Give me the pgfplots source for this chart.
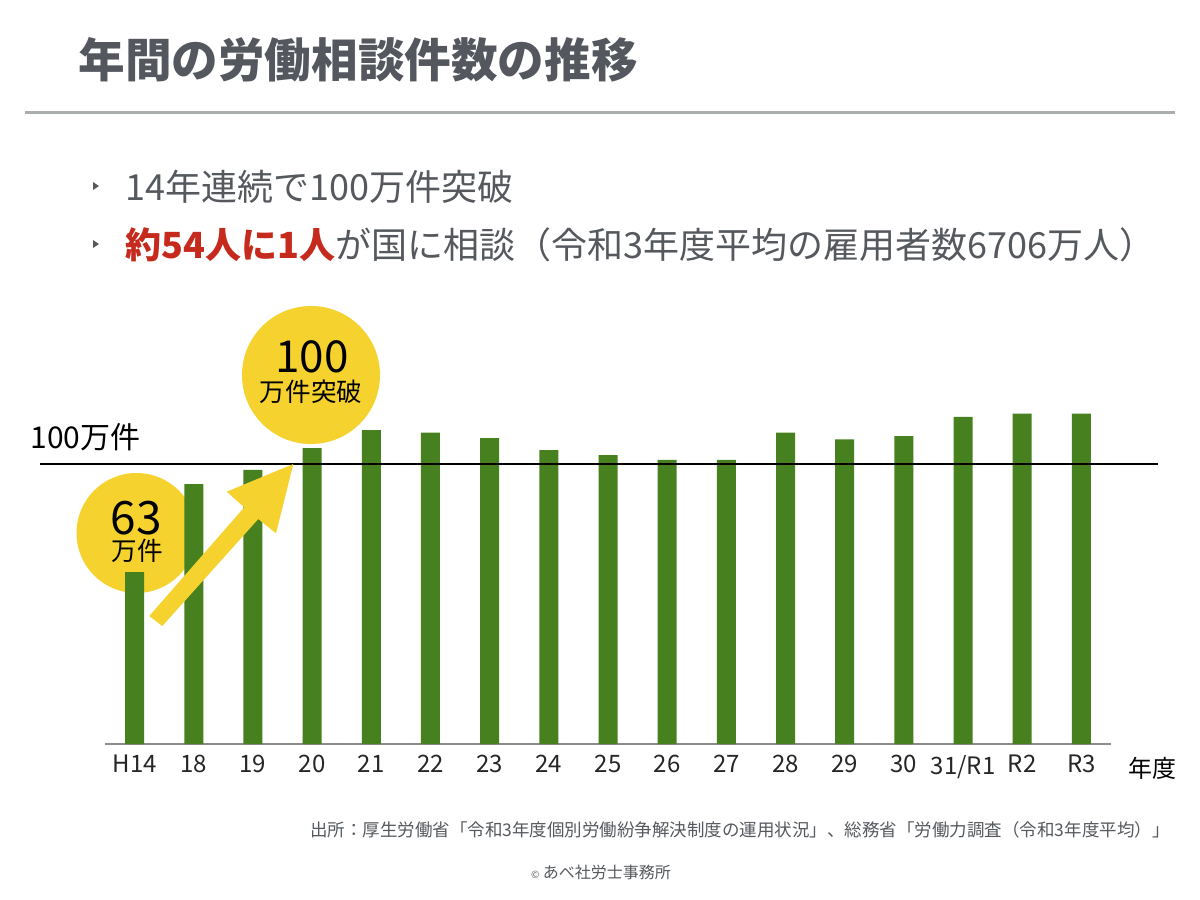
\documentclass[border=0pt]{standalone}
\usepackage{pgfplots}
\pgfplotsset{compat=1.18}
\usepackage{fontspec}
\setmainfont{Noto Sans CJK JP}
\definecolor{bargreen}{HTML}{47801E}
\definecolor{circyel}{HTML}{F5D22E}
\definecolor{titlegray}{HTML}{54585E}
\definecolor{textgray}{HTML}{55595E}
\definecolor{accred}{HTML}{C62A1C}
\definecolor{rulegray}{HTML}{A9ADAD}
\newcommand{\fs}[1]{\fontsize{#1}{#1}\selectfont}
\begin{document}
\begin{tikzpicture}
\begin{scope}[x=0.5pt,y=-0.5pt]
\useasboundingbox (0,0) rectangle (1200,900);
\fill[white] (0,0) rectangle (1200,900);
\node[anchor=west, text=titlegray, font=\fs{23.3pt}\bfseries, inner sep=0] at (78,60) {年間の労働相談件数の推移};
\fill[rulegray] (25,110.5) rectangle (1175,113.5);
\fill[textgray] (93,182) -- (99,186) -- (93,190) -- cycle;
\fill[textgray] (93,240) -- (99,244) -- (93,248) -- cycle;
\node[anchor=west, text=textgray, font=\fs{18pt}, inner sep=0] at (125,187) {14年連続で100万件突破};
\node[anchor=west, text=textgray, font=\fs{18pt}, inner sep=0] at (125,245) {{\color{accred}\bfseries 約54人に1人}が国に相談（令和3年度平均の雇用者数6706万人）};
\fill[circyel] (311,375) circle (34.5pt);
\fill[circyel] (136.5,533) circle (30pt);
\end{scope}
\begin{axis}[
  at={(52.5pt,-372pt)}, anchor=south west,
  scale only axis, width=503pt, height=182pt,
  xmin=-0.5, xmax=16.5, ymin=0, ymax=130,
  axis x line=bottom, axis y line=none,
  axis line style={-},
  x axis line style={draw=black!45, line width=0.8pt},
  xtick={0,...,16},
  xticklabels={H14,18,19,20,21,22,23,24,25,26,27,28,29,30,31/R1,R2,R3},
  major tick length=0pt,
  ytick=\empty,
  xticklabel style={font=\fs{12pt}, text=black!85, anchor=north, yshift=-2pt},
  clip=false,
]
\addplot[ybar, bar width=9.5pt, bar shift=0pt, fill=bargreen, draw=none] coordinates {
(0,61.4) (1,92.8) (2,97.9) (3,105.7) (4,112.1) (5,111.2) (6,109.2) (7,105.0) (8,103.2)
(9,101.5) (10,101.5) (11,111.2) (12,108.8) (13,110.0) (14,116.8) (15,118.0) (16,118.0)
};
\end{axis}
\begin{scope}[x=0.5pt,y=-0.5pt]
\draw[line width=1.1pt, black] (40,464) -- (1158,464);
\fill[circyel] (149.3,616) -- (244.3,507.3) -- (226.7,491.7) -- (293.3,464) -- (276,533.3) -- (258.3,519) -- (162.3,626) -- cycle;
\node[anchor=west, font=\fs{15pt}, inner sep=0] at (30,437) {100万件};
\node[font=\fs{12pt}, inner sep=0] at (1152,768) {年度};
\node[font=\fs{22pt}, inner sep=0] at (312,357) {100};
\node[font=\fs{12.8pt}, inner sep=0] at (311,392) {万件突破};
\node[font=\fs{23pt}, inner sep=0] at (136.5,518) {63};
\node[font=\fs{12.8pt}, inner sep=0] at (137,551) {万件};
\node[anchor=east, text=textgray, font=\fs{8.75pt}, inner sep=0] at (1170,830) {出所：厚生労働省「令和3年度個別労働紛争解決制度の運用状況」、総務省「労働力調査（令和3年度平均）」};
\node[text=textgray, font=\fs{8pt}, inner sep=0] at (601,872) {{\fs{5pt}©} あべ社労士事務所};
\end{scope}
\end{tikzpicture}
\end{document}
